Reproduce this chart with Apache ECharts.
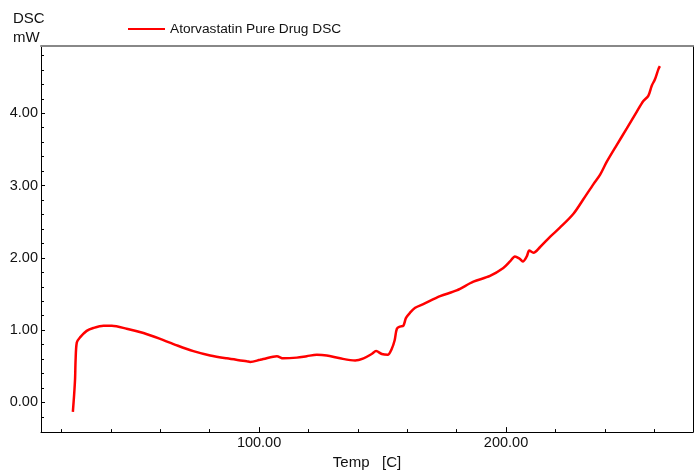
<!DOCTYPE html>
<html>
<head>
<meta charset="utf-8">
<script src="https://cdn.jsdelivr.net/npm/echarts@6/dist/echarts.min.js"></script>
<style>
html,body{margin:0;padding:0;background:#fff;}
#chart{width:694px;height:475px;}
</style>
</head>
<body>
<div id="chart"></div>
<script>
const seriesName = 'Atorvastatin Pure Drug DSC';
const temps = [24.6, 25.1, 25.5, 25.7, 26.2, 27.5, 30.2, 32.9, 37.0, 40.4, 46.4, 53.2, 59.9, 66.7, 73.4, 80.2, 86.9, 95.0, 96.4, 100.4, 101.7, 107.2, 109.8, 115.3, 119.3, 123.4, 127.4, 132.8, 138.9, 142.3, 145.6, 147.4, 149.7, 152.1, 153.7, 154.9, 155.8, 157.1, 158.4, 159.5, 161.1, 163.2, 166.5, 173.3, 180.0, 186.8, 193.5, 198.9, 201.6, 203.6, 205.4, 206.8, 208.4, 209.4, 211.1, 213.8, 217.8, 221.9, 227.3, 231.3, 235.4, 238.1, 240.8, 244.8, 248.9, 252.9, 255.6, 257.6, 259.0, 260.3, 261.7, 262.3];
const dsc = [-0.13, 0.10, 0.33, 0.58, 0.83, 0.90, 0.99, 1.03, 1.06, 1.06, 1.02, 0.96, 0.88, 0.79, 0.71, 0.65, 0.61, 0.57, 0.56, 0.59, 0.60, 0.64, 0.61, 0.62, 0.64, 0.66, 0.65, 0.61, 0.58, 0.61, 0.67, 0.71, 0.67, 0.66, 0.74, 0.86, 1.02, 1.05, 1.06, 1.17, 1.24, 1.31, 1.36, 1.47, 1.55, 1.67, 1.75, 1.86, 1.95, 2.02, 1.99, 1.95, 2.02, 2.10, 2.07, 2.15, 2.29, 2.42, 2.61, 2.81, 3.02, 3.15, 3.33, 3.56, 3.79, 4.02, 4.17, 4.24, 4.38, 4.47, 4.61, 4.65];
const xLabels = [100, 200];
const xTicks = [20, 40, 60, 80, 120, 140, 160, 180, 220, 240, 260];
const yLabels = [0, 1, 2, 3, 4];
const yTicks = [-0.2, 0.2, 0.4, 0.6, 0.8, 1.2, 1.4, 1.6, 1.8, 2.2, 2.4, 2.6, 2.8, 3.2, 3.4, 3.6, 3.8, 4.2, 4.4, 4.6, 4.8];
const xRange = [11.7, 275.7];
const yRange = [-0.41, 4.93];

const font = 'Liberation Sans, Arial, sans-serif';
const chart = echarts.init(document.getElementById('chart'), null, {renderer: 'canvas'});
const hidden = {axisLabel: {show: false}, splitLine: {show: false}};
chart.setOption({
  animation: false,
  backgroundColor: '#fff',
  grid: {left: 41, top: 46, right: 1, bottom: 37, containLabel: false},
  legend: {
    data: [seriesName], left: 123, top: 17, icon: 'rect',
    itemWidth: 37, itemHeight: 2,
    textStyle: {fontFamily: font, fontSize: 13.7, color: '#111'}
  },
  xAxis: [{
    type: 'value', min: xRange[0], max: xRange[1],
    name: 'Temp   [C]', nameLocation: 'middle', nameGap: 19,
    nameTextStyle: {fontFamily: font, fontSize: 15, color: '#111'},
    axisLine: {show: true, onZero: false, lineStyle: {color: '#000', width: 1}},
    axisTick: {show: true, inside: true, length: 3, customValues: xTicks, lineStyle: {color: '#000'}},
    axisLabel: {customValues: xLabels, formatter: v => v.toFixed(2), fontFamily: font, fontSize: 14.5, color: '#111', margin: 3},
    splitLine: {show: false}
  }, {
    type: 'value', position: 'top', min: xRange[0], max: xRange[1],
    axisLine: {show: true, onZero: false, lineStyle: {color: '#888', width: 2}},
    axisTick: {show: false}, ...hidden
  }, {
    type: 'value', position: 'bottom', min: xRange[0], max: xRange[1],
    axisLine: {show: false, onZero: false},
    axisTick: {show: true, inside: true, length: 5, customValues: xLabels, lineStyle: {color: '#000'}}, ...hidden
  }],
  yAxis: [{
    type: 'value', min: yRange[0], max: yRange[1],
    name: 'DSC\nmW', nameLocation: 'end', nameGap: -1,
    nameTextStyle: {fontFamily: font, fontSize: 15, color: '#111', align: 'left', verticalAlign: 'bottom', lineHeight: 19, padding: [0, 0, 0, -28]},
    axisLine: {show: true, onZero: false, lineStyle: {color: '#000', width: 1}},
    axisTick: {show: true, inside: true, length: 3, customValues: yTicks, lineStyle: {color: '#000'}},
    axisLabel: {customValues: yLabels, formatter: v => v.toFixed(2), fontFamily: font, fontSize: 14.5, color: '#111', margin: 3},
    splitLine: {show: false}
  }, {
    type: 'value', position: 'right', min: yRange[0], max: yRange[1],
    axisLine: {show: true, onZero: false, lineStyle: {color: '#000', width: 1}},
    axisTick: {show: false}, ...hidden
  }, {
    type: 'value', position: 'left', min: yRange[0], max: yRange[1],
    axisLine: {show: false, onZero: false},
    axisTick: {show: true, inside: true, length: 4, customValues: yLabels, lineStyle: {color: '#000'}}, ...hidden
  }],
  series: [{
    name: seriesName, type: 'line', xAxisIndex: 0, yAxisIndex: 0,
    data: temps.map((t, i) => [t, dsc[i]]),
    showSymbol: false, smooth: 0.3,
    lineStyle: {color: '#ff0000', width: 2.5},
    itemStyle: {color: '#ff0000'}
  }]
});
</script>
</body>
</html>
